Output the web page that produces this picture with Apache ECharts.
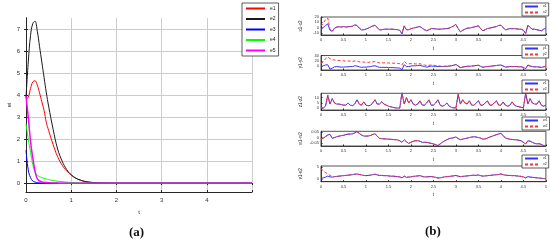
<!DOCTYPE html>
<html>
<head>
<meta charset="utf-8">
<script src="https://cdn.jsdelivr.net/npm/echarts@6/dist/echarts.min.js"></script>
<style>html,body{margin:0;padding:0;background:#fff}#main{width:550px;height:244px}</style>
</head>
<body>
<div id="main"></div>
<script>
// panel (a): error curves
var tA = [0,0.05,0.1,0.15,0.2,0.25,0.3,0.35,0.4,0.45,0.5,0.6,0.7,0.8,0.9,1.0,1.1,1.2,1.3,1.4,1.5,1.6,1.8,2.0,2.5,3,3.5,4,4.5,5];
var e1 = [3.8,3.9,4.3,4.6,4.65,4.45,4.1,3.7,3.3,2.75,2.4,1.75,1.2,0.82,0.56,0.37,0.23,0.14,0.08,0.05,0.03,0.015,0.005,0,0,0,0,0,0,0];
var e2 = [3.9,5.5,6.7,7.25,7.35,6.9,6.2,5.5,4.8,4.1,3.5,2.45,1.55,1.0,0.62,0.38,0.23,0.14,0.08,0.045,0.025,0.014,0.005,0.002,0,0,0,0,0,0];
var e3 = [1.5,0.6,0.25,0.1,0.05,0.03,0.02,0.01,0.01,0,0,0,0,0,0,0,0,0,0,0,0,0,0,0,0,0,0,0,0,0];
var e4 = [2.7,2.0,1.4,0.85,0.5,0.36,0.3,0.25,0.22,0.19,0.16,0.12,0.09,0.07,0.05,0.035,0.025,0.015,0.01,0.005,0,0,0,0,0,0,0,0,0,0];
var e5 = [3.95,3.0,1.9,1.15,0.55,0.2,0.1,0.06,0.04,0.03,0.02,0.01,0.005,0,0,0,0,0,0,0,0,0,0,0,0,0,0,0,0,0];
var namesA = ['e1','e2','e3','e4','e5'];
var colorsA = ['#ff0000','#1a1a1a','#0000ff','#00ff00','#ff00ff'];
var ticksAx = [0,1,2,3,4];
var ticksAy = [0,1,2,3,4,5,6,7];

// panel (b): synchronisation pairs
var tB = [0,0.05,0.1,0.15,0.2,0.25,0.3,0.35,0.4,0.45,0.5,0.55,0.6,0.65,0.7,0.75,0.8,0.85,0.9,0.95,
  1,1.05,1.1,1.15,1.2,1.25,1.3,1.35,1.4,1.45,1.5,1.55,1.6,1.65,1.7,1.75,1.8,1.85,1.9,1.95,
  2,2.05,2.1,2.15,2.2,2.25,2.3,2.35,2.4,2.45,2.5,2.55,2.6,2.65,2.7,2.75,2.8,2.85,2.9,2.95,
  3,3.05,3.1,3.15,3.2,3.25,3.3,3.35,3.4,3.45,3.5,3.55,3.6,3.65,3.7,3.75,3.8,3.85,3.9,3.95,
  4,4.05,4.1,4.15,4.2,4.25,4.3,4.35,4.4,4.45,4.5,4.55,4.6,4.65,4.7,4.75,4.8,4.85,4.9,4.95,5];
var x1 = [-3,0,4,7,-5,-7,-1,1,1.5,1, 2,1,1.5,2,2.5,5,4,-1,-4.5,-4,
  -3,-1,1,3,4.5,0,-4.5,-4,-3,-3, -3,-3,-3,-3.5,-4,-5,-12,3,-4,-4,
  -2,-1,0,1,2,-1,-4,-6,-4,-2, -2,-2.5,-3,-3,-2.5,-2,-2,-1,1,3,
  6,-2,-8,-5,-3,-1,-1,0,1,2, 3.5,-2,-6,-4,-2,-1,0,1,2,4,
  4.5,0,-4.5,-3,-2,-2,-2,-2.5,-3,-3, -5,-11,4.5,0,-3,-3,-4,-5,-6,-3, -1];
var x2 = [3,8,15,18,-3,-7,-1.5,1,1.5,1, 2,1.2,1.5,2,2.5,5,4,-1,-4.5,-4,
  -3,-1,1,3,4.5,0,-4.5,-4,-3,-3, -3,-3,-3,-3.5,-4,-5,-11,3.5,-4,-4,
  -2,-1,0,1,2,-1,-4,-6,-4,-2, -2,-2.5,-3,-3,-2.5,-2,-2,-1,1,3,
  6,-2,-8,-5,-3,-1,-1,0,1,2, 3.5,-2,-6,-4,-2,-1,0,1,2,4,
  4.5,0,-4.5,-3,-2,-2,-2,-2.5,-3,-3, -5,-11,4.5,0,-3,-3,-4,-5,-6,-3, -1];
var y1 = [-2,1,4,5,-12,-8,-3,-2,-3,-4, -4,-3,-3,-2,-2,1,0,-3,-5,-4,
  -4,-3,-2,0,1,-2,-5,-5,-5,-5, -5.5,-6,-6,-6.5,-7,-8,-14,5,-2,-2,
  0,1,1,2,3,0,-2,-4,-2,0, -1,-1,-2,-2,-2,-1,-1,0,1,3,
  6,0,-6,-4,-2,-1,-1,0,1,2, 3,-1,-5,-3,-2,-1,0,1,2,3,
  4,0,-4,-3,-2,-2,-2,-2,-3,-3, -5,-10,4,0,-2,-3,-3,-4,-5,-3, -1];
var y2 = [10,16,28,34,28,24,23,22,21,20, 20,19,19,19,18,19,19,16,15,15,
  14,14,15,16,17,14,12,12,12,12, 11.5,11,11,10.5,10,9,4,18,10,9,
  9,9,8,8,9,6,4,2,3,4, 3,2,1,0,-1,-1,-1,0,1,3,
  6,0,-6,-4,-2,-1,-1,0,1,2, 3,-1,-5,-3,-2,-1,0,1,2,3,
  4,0,-4,-3,-2,-2,-2,-2,-3,-3, -5,-10,4,0,-2,-3,-3,-4,-5,-3, -1];
var z1 = [0.5,0.3,2,12,4,9,5,4,4,3.5, 3,3,5,3,2.5,4,8,4,3,6,
  3,2.5,3,5,8,4,4,6,4,3, 2,1.5,1,0.5,0.3,0.3,14,4,10,5,
  8,4,3,4,7,3,3,5,8,3, 3,5,8,3,2,3,5,2,1,0.5,
  0.3,13,4,8,5,4,7,3,3,5, 7,3,3,5,7,3,3,5,7,3,
  3,6,3,2,3,6,3,2,1.5,1, 0.5,14,4,9,5,4,4,7,3,2, 3];
var z2 = [0.6,0.3,2.5,12.5,4,9,5,4,4,3.5, 3,3,5,3,2.5,4,8,4,3,6,
  3,2.5,3,5,8,4,4,6,4,3, 2,1.5,1,0.5,0.3,0.3,15,4,10,5,
  8,4,3,4,7,3,3,5,8,3, 3,5,8,3,2,3,5,2,1,0.5,
  0.3,13,4,8,5,4,7,3,3,5, 7,3,3,5,7,3,3,5,7,3,
  3,6,3,2,3,6,3,2,1.5,1, 0.5,14,4,9,5,4,4,7,3,2, 3];
var w1 = [-0.015,-0.005,0.01,0.025,0.03,-0.006,0,0.008,0.014,0.018,
  0.022,0.028,0.033,0.034,0.036,0.045,0.058,0.04,0.025,0.015,
  0.014,0.015,0.02,0.03,0.036,0.015,-0.008,-0.01,-0.012,-0.013,
  -0.015,-0.016,-0.018,-0.02,-0.022,-0.03,-0.045,-0.02,-0.04,-0.055,
  -0.045,-0.035,-0.03,-0.03,-0.035,-0.045,-0.045,-0.045,-0.05,-0.055,
  -0.06,-0.068,-0.075,-0.06,-0.045,-0.03,-0.02,-0.01,-0.005,0,
  0.006,-0.01,-0.02,-0.015,-0.01,-0.005,0,0.005,0.008,0.005,
  0,-0.005,-0.015,-0.012,-0.005,0.005,0.012,0.02,0.028,0.035,
  0.04,0.02,-0.005,-0.01,-0.015,-0.018,-0.02,-0.022,-0.025,-0.03,
  -0.045,-0.06,-0.03,-0.035,-0.045,-0.055,-0.06,-0.058,-0.065,-0.075, -0.08];
var w2 = [-0.014,-0.005,0.01,0.024,0.03,-0.005,0,0.008,0.014,0.018,
  0.022,0.028,0.033,0.034,0.036,0.045,0.057,0.04,0.025,0.015,
  0.014,0.015,0.02,0.03,0.036,0.015,-0.008,-0.01,-0.012,-0.013,
  -0.015,-0.016,-0.018,-0.02,-0.022,-0.03,-0.046,-0.02,-0.04,-0.055,
  -0.045,-0.035,-0.03,-0.03,-0.035,-0.045,-0.045,-0.045,-0.05,-0.055,
  -0.06,-0.068,-0.075,-0.06,-0.045,-0.03,-0.02,-0.01,-0.005,0,
  0.006,-0.01,-0.02,-0.015,-0.01,-0.005,0,0.005,0.008,0.005,
  0,-0.005,-0.015,-0.012,-0.005,0.005,0.012,0.02,0.028,0.035,
  0.04,0.02,-0.005,-0.01,-0.015,-0.018,-0.02,-0.022,-0.025,-0.03,
  -0.045,-0.06,-0.03,-0.035,-0.045,-0.055,-0.06,-0.058,-0.065,-0.075, -0.08];
var v1 = [0.3,0.6,0.9,1.3,1.0,0.9,1.1,1.2,1.3,1.4, 1.5,1.6,1.7,1.8,1.9,2.1,2.2,2.0,1.8,1.6,
  1.5,1.6,1.7,1.9,2.1,1.8,1.6,1.6,1.5,1.5, 1.4,1.3,1.3,1.2,1.1,1.0,0.6,1.3,0.8,0.9,
  1.0,1.2,1.3,1.4,1.5,1.2,1.0,1.0,1.1,1.1, 1.0,0.8,0.5,0.6,0.8,1.0,1.1,1.2,1.3,1.4,
  1.6,1.3,1.1,1.2,1.3,1.4,1.5,1.6,1.7,1.6, 1.8,1.5,1.3,1.4,1.5,1.6,1.7,1.8,1.9,2.0,
  2.2,1.9,1.7,1.6,1.6,1.5,1.5,1.4,1.3,1.2, 1.0,0.6,1.1,0.9,0.8,0.7,0.6,0.5,0.4,0.3, 0.3];
var v2 = [4.5,3.5,2.8,2.3,1.6,1.2,1.1,1.2,1.3,1.4, 1.5,1.6,1.7,1.8,1.9,2.1,2.2,2.0,1.8,1.6,
  1.5,1.6,1.7,1.9,2.1,1.8,1.6,1.6,1.5,1.5, 1.4,1.3,1.3,1.2,1.1,1.0,0.6,1.3,0.8,0.9,
  1.0,1.2,1.3,1.4,1.5,1.2,1.0,1.0,1.1,1.1, 1.0,0.8,0.5,0.6,0.8,1.0,1.1,1.2,1.3,1.4,
  1.6,1.3,1.1,1.2,1.3,1.4,1.5,1.6,1.7,1.6, 1.8,1.5,1.3,1.4,1.5,1.6,1.7,1.8,1.9,2.0,
  2.2,1.9,1.7,1.6,1.6,1.5,1.5,1.4,1.3,1.2, 1.0,0.6,1.1,0.9,0.8,0.7,0.6,0.5,0.4,0.3, 0.3];
var pairsB = [[x1,x2],[y1,y2],[z1,z2],[w1,w2],[v1,v2]];
var namesB = [['x1','x2'],['y1','y2'],['z1','z2'],['w1','w2'],['v1','v2']];
var labelsB = ['x1-x2','y1-y2','z1-z2','w1-w2','v1-v2'];
var ticksBy = [[-10,0,10,20],[0,20,40],[0,5,10],[-0.05,0,0.05],[0,5]];
var rangesB = [[-14,20],[-15,40],[-1.5,14],[-0.08,0.06],[-1,5.5]];

function pts(t, v) {
  return t.map(function (x, i) { return [x, v[i]]; });
}

var myChart = echarts.init(document.getElementById('main'));
var axisCol = '#262626';
var gridCol = '#cccccc';
var grids = [{left: 26, top: 18, width: 226, height: 174}];
var xAxes = [{
  gridIndex: 0, type: 'value', min: 0, max: 5, interval: 1,
  name: 't', nameLocation: 'middle', nameGap: 17, nameTextStyle: {fontSize: 6, color: '#222'},
  axisLine: {onZero: false, lineStyle: {color: axisCol, width: 1}},
  axisTick: {inside: true, length: 2, lineStyle: {color: axisCol}},
  axisLabel: {fontSize: 6, color: '#333', margin: 5, formatter: function (v) { return ticksAx.indexOf(v) >= 0 ? String(v) : ''; }},
  splitLine: {show: true, lineStyle: {color: gridCol, width: 1}}
}, {
  gridIndex: 0, type: 'value', position: 'top', min: 0, max: 5, interval: 1,
  axisLine: {lineStyle: {color: axisCol, width: 1}},
  axisTick: {inside: true, length: 2, lineStyle: {color: axisCol}},
  axisLabel: {show: false}, splitLine: {show: false}
}];
var yAxes = [{
  gridIndex: 0, type: 'value', min: -0.4, max: 7.5,
  name: 'ei', nameLocation: 'middle', nameGap: 13, nameTextStyle: {fontSize: 6, color: '#222'},
  axisLine: {lineStyle: {color: axisCol, width: 1}},
  axisTick: {inside: true, length: 2, customValues: ticksAy, lineStyle: {color: axisCol}},
  axisLabel: {fontSize: 6, color: '#333', margin: 6, customValues: ticksAy},
  splitLine: {show: true, lineStyle: {color: gridCol, width: 1}}
}, {
  gridIndex: 0, type: 'value', position: 'right', min: -0.4, max: 7.5,
  axisLine: {show: true, lineStyle: {color: axisCol, width: 1}},
  axisTick: {show: true, inside: true, length: 2, customValues: ticksAy, lineStyle: {color: axisCol}},
  axisLabel: {show: false}, splitLine: {show: false}
}];
var series = [];
namesA.forEach(function (n, i) {
  series.push({
    name: n, type: 'line', xAxisIndex: 0, yAxisIndex: 0, data: pts(tA, [e1, e2, e3, e4, e5][i]),
    smooth: 0.4, symbol: 'none', z: 3, lineStyle: {color: colorsA[i], width: i === 4 ? 1.5 : 1},
    itemStyle: {color: colorsA[i]}
  });
});
var legends = [{
  data: namesA, orient: 'vertical', left: 242, top: 3, padding: [3, 3],
  itemWidth: 19, itemHeight: 6, itemGap: 5.5, itemTextGap: 4,
  itemStyle: {opacity: 0},
  textStyle: {fontSize: 5, color: '#222'},
  borderColor: '#333', borderWidth: 0.8, backgroundColor: '#fff'
}];

var topsB = [17, 55.5, 93.3, 131.3, 166];
var heightsB = [18, 14.5, 16.7, 14.7, 15.7];
var legTopsB = [3, 45, 80, 117, 155];
pairsB.forEach(function (pair, k) {
  var g = grids.length;
  var xi = xAxes.length, yi = yAxes.length;
  grids.push({left: 321, top: topsB[k], width: 225, height: heightsB[k], show: true, borderColor: axisCol, borderWidth: 0.8, backgroundColor: 'transparent'});
  xAxes.push({
    gridIndex: g, type: 'value', min: 0, max: 5, interval: 0.5,
    name: 't', nameLocation: 'middle', nameGap: 11, nameTextStyle: {fontSize: 4.5, color: '#222'},
    axisLine: {onZero: false, lineStyle: {color: axisCol, width: 0.8}},
    axisTick: {inside: true, length: 1.5, lineStyle: {color: axisCol}},
    axisLabel: {fontSize: 4, color: '#333', margin: 3},
    splitLine: {show: false}
  });
  yAxes.push({
    gridIndex: g, type: 'value', min: rangesB[k][0], max: rangesB[k][1],
    name: labelsB[k], nameLocation: 'middle', nameGap: 18, nameTextStyle: {fontSize: 4.5, color: '#222'},
    axisLine: {lineStyle: {color: axisCol, width: 0.8}},
    axisTick: {inside: true, length: 1.5, customValues: ticksBy[k], lineStyle: {color: axisCol}},
    axisLabel: {fontSize: 4, color: '#333', margin: 2, customValues: ticksBy[k]},
    splitLine: {show: false}
  });
  series.push({
    name: namesB[k][0], type: 'line', xAxisIndex: xi, yAxisIndex: yi, data: pts(tB, pair[0]),
    symbol: 'none', lineStyle: {color: '#3333ff', width: 1}, itemStyle: {color: '#3333ff'}
  });
  series.push({
    name: namesB[k][1], type: 'line', xAxisIndex: xi, yAxisIndex: yi, data: pts(tB, pair[1]),
    symbol: 'none', lineStyle: {color: '#ff3333', width: 1, type: [3, 2]}, itemStyle: {color: '#ff3333'}
  });
  legends.push({
    data: namesB[k], orient: 'vertical', left: 522, top: legTopsB[k], padding: [1.5, 2],
    itemWidth: 13, itemHeight: 4, itemGap: 2, itemTextGap: 3,
    itemStyle: {opacity: 0},
    textStyle: {fontSize: 3.5, color: '#222'},
    borderColor: '#333', borderWidth: 0.8, backgroundColor: '#fff'
  });
});

option = {
  backgroundColor: '#fff',
  animation: false,
  grid: grids,
  xAxis: xAxes,
  yAxis: yAxes,
  legend: legends,
  series: series,
  graphic: [
    {type: 'text', left: 129, top: 226, style: {text: '(a)', font: 'bold 13px "Liberation Serif"', fill: '#111'}},
    {type: 'text', left: 425, top: 225, style: {text: '(b)', font: 'bold 13px "Liberation Serif"', fill: '#111'}}
  ]
};
myChart.setOption(option);
</script>
</body>
</html>
